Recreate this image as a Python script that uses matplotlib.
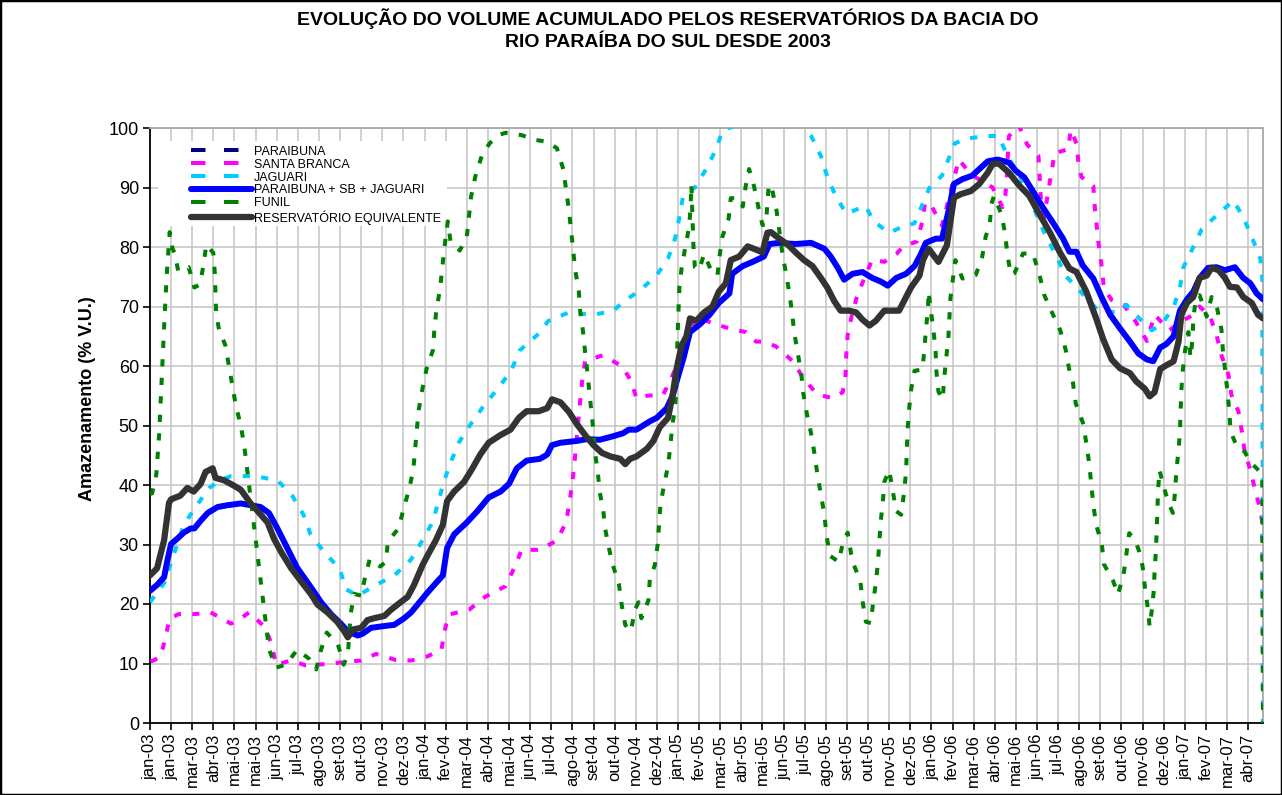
import matplotlib
matplotlib.use("Agg")
import matplotlib.pyplot as plt
from matplotlib.patches import Rectangle
from matplotlib.lines import Line2D

plt.rcParams['font.family'] = ['Liberation Sans', 'DejaVu Sans']

title = "EVOLUÇÃO DO VOLUME ACUMULADO PELOS RESERVATÓRIOS DA BACIA DO\nRIO PARAÍBA DO SUL DESDE 2003"
ylabel = "Amazenamento (% V.U.)"

# x axis: days since 01-jan-2003, one tick every 30 days
tick_labels = ['jan-03', 'jan-03', 'mar-03', 'abr-03', 'mai-03', 'mai-03', 'jun-03', 'jul-03',
               'ago-03', 'set-03', 'out-03', 'nov-03', 'dez-03',
               'jan-04', 'fev-04', 'mar-04', 'abr-04', 'mai-04', 'jun-04', 'jul-04', 'ago-04',
               'set-04', 'out-04', 'nov-04', 'dez-04',
               'jan-05', 'fev-05', 'mar-05', 'abr-05', 'mai-05', 'jun-05', 'jul-05', 'ago-05',
               'set-05', 'out-05', 'nov-05', 'dez-05',
               'jan-06', 'fev-06', 'mar-06', 'abr-06', 'mai-06', 'jun-06', 'jul-06', 'ago-06',
               'set-06', 'out-06', 'nov-06', 'dez-06',
               'jan-07', 'fev-07', 'mar-07', 'abr-07']
tick_days = [30 * i for i in range(len(tick_labels))]
x_end = 1581

series_names = ['PARAIBUNA', 'SANTA BRANCA', 'JAGUARI', 'PARAIBUNA + SB + JAGUARI',
                'FUNIL', 'RESERVATÓRIO EQUIVALENTE']

paraibuna_days = []
paraibuna_vals = []

sb_days = [1, 15, 22, 28, 41, 63, 86, 115, 129, 141, 164, 173, 179, 200, 221, 250, 281, 300, 321,
           349, 371, 394, 414, 418, 424, 454, 476, 505, 517, 528, 554, 578, 591, 596, 600, 603, 611,
           614, 618, 643, 670, 683, 691, 706, 729, 740, 751, 775, 799, 823, 846, 861, 872, 889, 913,
           929, 948, 970, 984, 988, 989, 991, 997, 1005, 1026, 1043, 1060, 1070, 1089, 1097, 1101,
           1110, 1125, 1137, 1149, 1166, 1197, 1211, 1215, 1217, 1220, 1234, 1246, 1262, 1265, 1268,
           1285, 1304, 1308, 1316, 1319, 1323, 1340, 1342, 1345, 1348, 1352, 1355, 1366, 1383, 1400,
           1416, 1427, 1448, 1465, 1482, 1491, 1506, 1515, 1522, 1532, 1536, 1546, 1551, 1555, 1563,
           1570, 1577, 1580, 1581]
sb_vals = [10.3, 11.1, 14.4, 17.6, 18.3, 18.3, 18.6, 16.7, 17.6, 18.6, 16.0, 13.1, 9.8, 10.5, 9.7,
           9.9, 10.3, 10.5, 11.6, 10.6, 10.5, 11.2, 12.3, 15.2, 18.2, 19.1, 21.2, 23.0, 26.0, 29.1,
           29.1, 30.7, 33.7, 37.1, 40.5, 43.8, 54.1, 57.5, 60.8, 61.8, 60.0, 57.6, 54.6, 55.0, 55.2,
           57.8, 60.8, 68.3, 67.2, 66.3, 65.7, 64.1, 64.1, 63.3, 60.8, 57.8, 55.2, 54.6, 55.6, 58.5,
           61.8, 65.2, 68.6, 72.0, 77.9, 77.5, 78.8, 80.1, 80.9, 84.2, 87.5,
           86.9, 83.6, 89.2, 94.7, 92.2, 90.0, 86.7, 88.6, 91.7, 98.6, 100.5, 97.2, 95.3, 89.0, 83.6,
           95.8, 96.4, 99.7, 97.4, 94.0, 91.8, 90.2, 86.8, 83.3, 79.9, 76.6, 73.1, 71.1, 70.3, 67.5,
           64.2, 68.6, 66.0, 67.5, 68.6, 70.0, 68.3, 65.2, 61.8, 58.5, 55.2, 52.4, 49.0, 45.6, 42.5,
           39.1, 35.9, 33.7, 0.0]

jag_days = [0, 20, 48, 66, 84, 100, 115, 148, 181, 202, 218, 228, 247, 270, 278, 295, 321, 347,
            371, 387, 402, 417, 427, 439, 456, 474, 494, 513, 525, 550, 566, 595, 628, 657, 677,
            696, 720, 736, 746, 752, 757, 774, 790, 804, 813, 842, 870, 900, 925, 939, 953, 962,
            974, 989, 1016, 1029, 1050, 1067, 1086, 1107, 1125, 1143, 1159, 1185, 1205, 1219, 1236,
            1273, 1288, 1300, 1314, 1347, 1373, 1387, 1400, 1423, 1437, 1454, 1463, 1468, 1482,
            1494, 1518, 1539, 1553, 1565, 1577, 1580, 1581]
jag_vals = [20.3, 23.5, 33.3, 36.5, 39.5, 40.8, 41.5, 41.5, 40.8, 38.2, 35.0, 31.7, 28.8, 25.8,
            22.5, 21.4, 23.2, 24.8, 27.5, 30.7, 33.9, 40.4, 43.8, 47.2, 50.3, 53.3, 56.2, 59.2,
            62.6, 65.2, 67.6, 69.0, 68.6, 69.2, 71.2, 72.7, 75.3, 78.1, 81.5, 85.0, 88.4, 90.0,
            93.1, 96.4, 99.5, 101.0, 102.0, 102.0, 101.0, 98.7, 95.3, 91.8, 88.6, 85.6, 86.9, 84.2,
            82.4, 83.3, 84.0, 89.9, 92.0, 97.4, 98.2, 98.6, 98.7, 95.1, 91.8, 81.7, 78.4, 75.2,
            73.5, 69.3, 69.0, 70.3, 68.6, 66.0, 67.0, 69.9, 73.2, 76.6, 80.0, 83.0, 85.6, 87.8,
            85.0, 81.7, 78.1, 74.8, 0.0]

psj_days = [0, 10, 20, 25, 30, 39, 48, 58, 63, 72, 82, 96, 110, 129, 143, 157, 169, 181, 195, 209,
            228, 243, 257, 271, 281, 295, 302, 314, 333, 347, 361, 371, 385, 394, 406, 416, 422,
            432, 450, 465, 481, 498, 510, 521, 535, 554, 564, 571, 583, 606, 620, 639, 658, 672,
            680, 691, 710, 720, 734, 743, 750, 758, 767, 781, 794, 808, 823, 827, 842, 856, 872,
            880, 894, 917, 939, 958, 967, 977, 986, 998, 1012, 1026, 1038, 1048, 1060, 1074, 1086,
            1095, 1102, 1116, 1125, 1135, 1142, 1154, 1168, 1180, 1190, 1204, 1220, 1230, 1242,
            1254, 1268, 1282, 1297, 1306, 1316, 1325, 1340, 1352, 1364,
            1378, 1392, 1404, 1416, 1425, 1435, 1444, 1454, 1463, 1473, 1482, 1491, 1503, 1515,
            1527, 1541, 1553, 1563, 1572, 1581]
psj_vals = [22.2, 23.2, 24.5, 27.5, 30.1, 31.0, 32.0, 32.7, 32.7, 34.0, 35.3, 36.3, 36.6, 36.9,
            36.6, 36.3, 35.3, 32.7, 29.4, 26.1, 22.9, 20.3, 18.3, 16.7, 15.4, 14.7, 15.0, 16.0,
            16.3, 16.5, 17.6, 18.6, 20.6, 21.9, 23.5, 24.8, 29.4, 31.7, 33.7, 35.6, 37.9, 38.9,
            40.2, 42.8, 44.1, 44.4, 45.1, 46.7, 47.1, 47.4, 47.7, 47.6, 48.2, 48.7, 49.3, 49.3,
            50.7, 51.3, 52.9, 55.2, 58.2, 61.4, 65.7, 67.0, 68.5, 70.6, 72.2, 75.5, 76.8, 77.5,
            78.4, 80.5, 80.7, 80.5, 80.7, 79.7, 78.4, 76.5, 74.5, 75.5, 75.8, 74.8, 74.2, 73.5,
            74.8, 75.5, 76.8, 78.8, 80.7, 81.4, 81.4, 86.4, 90.6, 91.4, 92.0, 93.3, 94.4, 94.7,
            94.2, 92.8, 91.7, 89.4, 86.7, 84.2, 81.4, 79.2, 79.2, 76.9, 74.7, 71.5, 68.6,
            66.3, 64.1, 62.1, 61.1, 60.8, 63.1, 63.7, 65.0, 69.3, 71.2, 72.5, 74.8, 76.5, 76.6,
            76.1, 76.6, 74.8, 73.9, 72.2, 71.2]

funil_days = [0, 3, 9, 13, 17, 21, 24, 28, 32, 35, 40, 55, 63, 71, 76, 80, 90, 92, 94, 98, 107,
              112, 117, 122, 129, 134, 141, 148, 155, 162, 169, 179, 193, 209, 226, 236, 243, 251,
              267, 275, 281, 285, 290, 300, 305, 312, 327, 335, 338, 353, 360, 368, 374, 379, 382,
              387, 393, 402, 404, 407, 412, 415, 418, 423, 427, 440, 450, 453, 456, 462, 472, 483,
              495, 505, 517, 528, 547, 564, 578, 587, 591, 595, 598, 601, 604, 609, 611, 615, 618,
              621, 624, 627, 630, 632, 636, 639, 644, 646, 651, 657, 666, 670, 675, 683, 689, 694,
              698, 708, 710, 717, 721, 723, 725, 730, 736, 739, 742, 746, 748, 749, 750, 752, 755,
              760, 766, 768, 769, 772, 774, 780, 787, 797, 806, 809, 813, 822, 825, 835, 842, 846,
              851, 858, 864, 870, 875, 877, 879, 884, 890, 894, 898, 903, 908, 912, 915, 920, 925,
              928, 933, 939, 944, 948, 953, 958, 961, 966, 978, 985, 991, 996, 1000, 1009, 1012,
              1017, 1024, 1027, 1031, 1034, 1036, 1038, 1041, 1043, 1050, 1055, 1060, 1067, 1071,
              1074, 1075, 1076, 1078, 1081, 1086, 1097, 1100, 1102, 1105, 1106, 1109, 1113, 1116,
              1117, 1120, 1126, 1128, 1131, 1134, 1137, 1144, 1154, 1162, 1173, 1182,
              1187, 1193, 1195, 1199, 1210, 1215, 1218, 1223, 1228, 1240, 1254, 1263, 1270, 1282,
              1293, 1301, 1306, 1311, 1315, 1325, 1330, 1334, 1337, 1340, 1344, 1352, 1355, 1368,
              1375, 1383, 1387, 1391, 1399, 1405, 1410, 1413, 1417, 1420, 1423, 1426, 1427, 1429,
              1430, 1431, 1432, 1434, 1440, 1447, 1453, 1456, 1458, 1461, 1463, 1464, 1465, 1467,
              1470, 1475, 1478, 1481, 1482, 1486, 1491, 1501, 1508, 1516, 1522, 1524, 1527, 1530,
              1533, 1535, 1544, 1555, 1563, 1572, 1580, 1581]
funil_vals = [38.5, 38.6, 41.8, 48.5, 58.7, 69.0, 75.7, 82.5, 79.7, 79.0, 76.0, 76.6, 73.2, 73.7,
              77.0, 80.4, 79.0, 75.7, 69.0, 66.1, 63.5, 60.1, 56.7, 53.3, 50.0, 46.5, 39.7, 33.0,
              26.1, 19.3, 12.4, 9.3, 9.8, 12.3, 10.8, 9.0, 12.3, 15.2, 13.2, 9.8, 11.4, 18.3, 21.7,
              21.4, 24.2, 27.5, 26.3, 27.1, 30.5, 32.7, 35.9, 39.3, 42.5, 49.3, 52.8, 56.2, 59.6,
              62.7, 66.3, 69.6, 72.9, 76.3, 79.7, 84.3, 80.9, 79.4, 81.7, 85.0, 88.4, 91.8, 95.6,
              97.5, 98.8, 99.2, 99.0, 98.8, 98.0, 97.7, 96.6, 93.1, 89.7, 86.3, 83.0, 79.6, 76.1,
              72.7, 69.3, 65.9, 62.4, 59.2, 55.7, 52.3, 49.0, 45.6, 42.2, 38.7, 35.6, 33.0, 29.9,
              26.7, 23.4, 19.9, 16.5, 15.4, 19.1, 20.3, 17.6, 20.6, 24.2, 26.5, 29.9, 33.2, 36.6,
              39.9, 43.3, 46.5, 50.0, 53.3, 56.9, 63.5, 67.0, 73.3, 76.3, 79.7, 83.5, 86.9, 90.5,
              80.0, 76.6, 76.1, 78.8, 76.1, 75.2, 78.4, 81.7, 84.8, 88.2, 88.2, 86.8, 90.1, 93.1,
              90.2, 86.8, 83.7, 83.8, 87.3, 90.5, 89.5, 86.1, 82.7, 79.2, 75.8, 72.4, 69.0, 65.7,
              62.2, 58.8, 55.4, 52.0, 48.7, 45.2, 41.8, 38.4, 35.0, 31.5, 28.1, 27.1, 30.6, 32.0,
              28.4, 26.5, 23.9, 20.6, 17.0, 16.8, 20.1, 23.5, 26.9, 30.4, 33.9, 37.1, 40.5, 42.5,
              39.1, 35.6, 35.0, 38.6, 42.2, 45.6, 49.0, 52.4, 55.9, 59.2, 59.4, 62.6, 66.0, 69.3,
              72.5, 69.4, 65.9, 62.4, 59.2, 55.7, 54.4, 57.8, 61.3, 64.6, 71.4, 77.8, 74.7, 74.9,
              75.3, 78.3, 81.7, 83.9, 87.2, 88.6, 85.3, 81.9, 78.6, 75.3, 75.6, 78.9, 78.9, 75.6,
              72.0, 68.8, 66.0, 62.6, 59.2, 57.2, 53.7, 50.5, 47.1, 43.7, 40.2, 36.7,
              33.3, 30.1, 26.7, 23.9, 21.6, 25.0, 28.4, 31.9, 30.8, 28.9, 26.3, 23.1, 19.6, 16.2,
              18.9, 22.4, 25.6, 29.1, 32.4, 35.9, 39.2, 42.5, 39.7, 36.9, 35.3, 38.7, 42.5, 45.8,
              49.0, 52.3, 55.9, 59.2, 62.4, 65.7, 61.4, 64.7, 68.0, 71.6, 71.9, 68.3, 71.6, 69.6,
              66.1, 62.7, 59.5, 56.2, 52.6, 49.0, 46.4, 45.6, 43.8, 42.8, 41.7, 0.0]

eq_days = [0, 10, 20, 27, 30, 43, 53, 62, 72, 79, 89, 93, 105, 119, 129, 143, 153, 167, 176, 186,
           200, 214, 229, 238, 252, 266, 276, 281, 288, 300, 309, 318, 333, 342, 356, 366, 375, 387,
           394, 406, 416, 422, 432, 446, 458, 469, 481, 498, 512, 524, 535, 552, 564, 571, 583, 595,
           606, 618, 630, 642, 654, 668, 675, 682, 691, 706, 715, 724, 736, 743, 748, 755, 762, 767,
           776, 787, 799, 808, 818, 825, 837, 849, 858, 870, 877, 882, 894, 906, 917, 929, 941, 953,
           962, 972, 981, 993, 1003, 1012, 1022, 1031, 1043, 1055, 1064, 1071, 1081, 1093, 1098,
           1106, 1120, 1132, 1142, 1152, 1166, 1178, 1190, 1197, 1206, 1220, 1235, 1249, 1263,
           1278, 1292, 1306, 1316, 1330, 1344, 1354, 1366, 1378, 1392,
           1401, 1413, 1420, 1427, 1435, 1442, 1454, 1461, 1465, 1473, 1482, 1491, 1501, 1508, 1518,
           1527, 1534, 1544, 1553, 1565, 1574, 1581]
eq_vals = [24.8, 26.0, 30.7, 37.0, 37.6, 38.2, 39.5, 38.9, 40.2, 42.2, 42.8, 41.2, 40.8, 39.9, 39.2,
           36.9, 35.6, 33.7, 31.0, 28.8, 26.1, 23.9, 21.6, 19.9, 18.6, 17.0, 15.4, 14.4, 15.7, 16.0,
           17.3, 17.6, 18.0, 19.0, 20.3, 21.2, 23.2, 26.5, 28.1, 30.7, 33.3, 37.3, 38.9, 40.5, 42.8,
           45.1, 47.1, 48.4, 49.3, 51.3, 52.4, 52.4, 52.9, 54.4, 53.9, 52.3, 50.3, 48.4, 46.7, 45.4,
           44.8, 44.4, 43.5, 44.4, 44.8, 46.1, 47.4, 49.7, 51.3, 55.6, 59.5, 63.4, 65.0, 68.0, 67.6,
           69.0, 70.0, 72.5, 73.9, 77.8, 78.4, 80.1, 79.7, 79.1, 82.4, 82.5, 81.4, 80.4, 79.1, 77.8,
           76.8, 74.8, 73.2, 70.9, 69.3, 69.3, 69.0, 67.8, 66.8, 67.6, 69.3, 69.3, 69.3, 70.9, 73.2,
           75.2, 77.8, 79.7, 77.5, 80.3, 88.3, 88.9, 89.4, 90.6, 92.5, 94.0, 94.0, 92.5, 90.3,
           88.6, 85.6, 82.5, 79.2, 76.4, 75.8, 72.5, 68.0, 64.5, 61.1, 59.6, 58.8,
           57.4, 56.2, 54.9, 55.6, 59.5, 60.0, 60.8, 64.1, 68.6, 70.6, 71.6, 74.8, 75.2,
           76.5, 76.1, 74.8, 73.3, 73.2, 71.6, 70.6, 68.6, 68.0]

# ---------------------------------------------------------------- figure
fig = plt.figure(figsize=(12.82, 7.95), dpi=100)
ax = fig.add_axes([150 / 1282, 1 - 723 / 795, (1263 - 150) / 1282, (723 - 128) / 795])

dash_lw = 2.9
dash = (0, (1.8, 2.8))
colors = ['#000080', '#FF00FF', '#00CCFF', '#0000FF', '#008000', '#333333']
ax.plot(paraibuna_days, paraibuna_vals, color=colors[0], lw=dash_lw, ls=dash, zorder=3)
ax.plot(sb_days, sb_vals, color=colors[1], lw=dash_lw, ls=dash, zorder=3)
ax.plot(jag_days, jag_vals, color=colors[2], lw=dash_lw, ls=dash, zorder=3)
ax.plot(psj_days, psj_vals, color=colors[3], lw=4.3, ls='-', solid_capstyle='round',
        solid_joinstyle='round', zorder=4)
ax.plot(funil_days, funil_vals, color=colors[4], lw=dash_lw, ls=dash, zorder=5)
ax.plot(eq_days, eq_vals, color=colors[5], lw=4.5, ls='-', solid_capstyle='round',
        solid_joinstyle='round', zorder=6)

ax.set_xlim(0, x_end)
ax.set_ylim(0, 100)
ax.set_yticks(range(0, 101, 10))
ax.set_xticks(tick_days)
ax.set_xticklabels(tick_labels, rotation=90, fontsize=12)
ax.tick_params(axis='y', labelsize=13)
ax.tick_params(direction='out', length=5, width=1.2, color='black', pad=3)

ax.grid(True, color='#C4C4C4', lw=1.1)
ax.set_axisbelow(True)
for s in ('left', 'bottom'):
    ax.spines[s].set_color('black')
    ax.spines[s].set_linewidth(1.3)
for s in ('top', 'right'):
    ax.spines[s].set_color('#A8A8A8')
    ax.spines[s].set_linewidth(1.3)

# legend (white background, no frame), handles drawn like the source legend
leg_dash = (0, (3.6, 4.6))
handles = [
    Line2D([], [], color=colors[0], lw=dash_lw, ls=leg_dash),
    Line2D([], [], color=colors[1], lw=dash_lw, ls=leg_dash),
    Line2D([], [], color=colors[2], lw=dash_lw, ls=leg_dash),
    Line2D([], [], color=colors[3], lw=4.3, solid_capstyle='round'),
    Line2D([], [], color=colors[4], lw=dash_lw, ls=leg_dash),
    Line2D([], [], color=colors[5], lw=4.5, solid_capstyle='round'),
]
ax.add_patch(Rectangle((0.007, 0.835), 0.26, 0.143, transform=ax.transAxes,
                       facecolor='white', edgecolor='none', zorder=2.5))
leg = ax.legend(handles, series_names, loc='upper left', bbox_to_anchor=(0.0365, 0.970),
                frameon=False, fontsize=9.0, labelspacing=0.07, handlelength=4.9,
                handletextpad=0.15, borderpad=0, borderaxespad=0)
leg.set_zorder(10)

fig.text(668 / 1282, 1 - 8 / 795, title, ha='center', va='top', fontsize=14,
         fontweight='bold', linespacing=1.42)
fig.text(87 / 1282, 1 - 399 / 795, ylabel, rotation=90, ha='center', va='center',
         fontsize=13, fontweight='bold')

fig.patches.append(Rectangle((0, 0), 1, 1, transform=fig.transFigure, fill=False,
                             edgecolor='black', lw=2.5))

fig.savefig('out.png', dpi=100)
